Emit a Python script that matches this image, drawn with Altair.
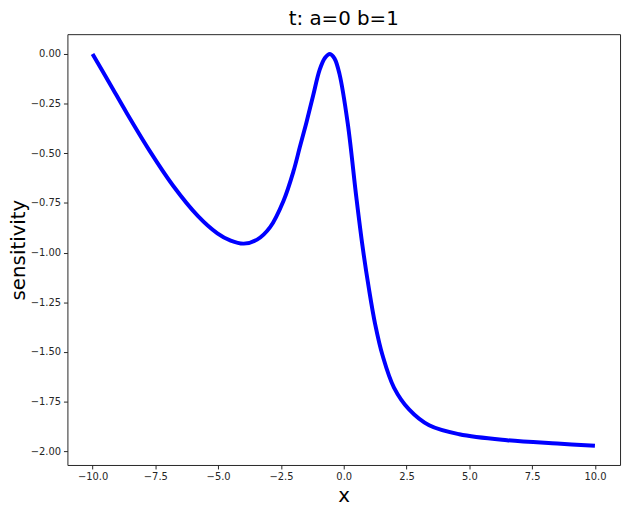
import altair as alt
import pandas as pd

xs = [-10, -9.3, -8.64, -7.72, -6.8, -5.81, -5.03, -4.5, -3.98, -3.45, -2.93, -2.4, -2.0, -1.75, -1.48, -1.22, -0.96, -0.75, -0.55, -0.37, -0.17, 0.16, 0.5, 0.75, 1.0, 1.25, 1.55, 2.0, 2.6, 3.4, 4.6, 6.5, 8.5, 10]
ys = [0.0, -0.152, -0.297, -0.489, -0.662, -0.815, -0.903, -0.94, -0.955, -0.935, -0.872, -0.74, -0.59, -0.47, -0.342, -0.21, -0.08, -0.02, 0.0, -0.022, -0.1, -0.35, -0.72, -0.97, -1.18, -1.36, -1.52, -1.68, -1.79, -1.87, -1.915, -1.945, -1.962, -1.973]

x_ticks = [-10, -7.5, -5, -2.5, 0, 2.5, 5, 7.5, 10]
y_ticks = [0, -0.25, -0.5, -0.75, -1.0, -1.25, -1.5, -1.75, -2.0]

df = pd.DataFrame({"x": xs, "sensitivity": ys})

chart = alt.Chart(df).mark_line(color="#0000ff", strokeWidth=4, interpolate="catmull-rom").encode(
    x=alt.X("x:Q", scale=alt.Scale(domain=[-11, 11], nice=False, zero=False),
            axis=alt.Axis(values=x_ticks, format=".1f", title="x")),
    y=alt.Y("sensitivity:Q", scale=alt.Scale(domain=[-2.07, 0.1], nice=False, zero=False),
            axis=alt.Axis(values=y_ticks, format=".2f", title="sensitivity")),
).properties(
    width=558, height=435,
    title=alt.TitleParams("t: a=0 b=1", fontSize=20, font="DejaVu Sans", fontWeight="normal",
                          color="black", anchor="middle", offset=5),
    autosize=alt.AutoSizeParams(type="none"),
    padding={"left": 60, "top": 24, "right": 5, "bottom": 40},
).configure_view(
    stroke="#262626", strokeWidth=1
).configure_axis(
    grid=False, domain=False, tickSize=4, tickColor="#262626", tickWidth=1,
    labelFont="DejaVu Sans", labelFontSize=10, labelColor="#262626", labelPadding=3,
    titleFont="DejaVu Sans", titleFontSize=20, titleFontWeight="normal", titleColor="black",
).configure_axisX(titlePadding=4).configure_axisY(titlePadding=2)

chart.save("out.html", embed_options={"renderer": "svg", "actions": False})
